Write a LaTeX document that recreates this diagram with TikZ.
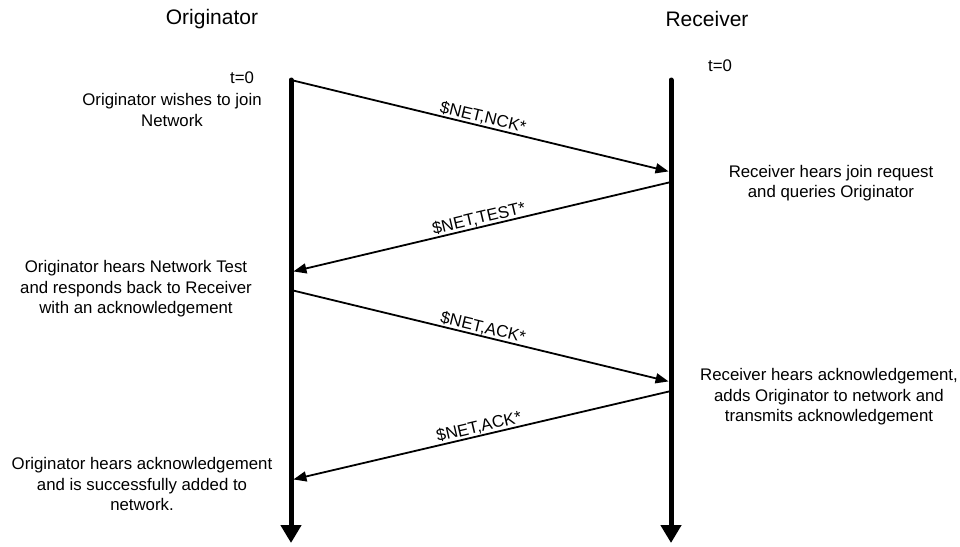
\documentclass[tikz,border=0pt]{standalone}
\usepackage{fontspec}
\setmainfont{Liberation Sans}
\usetikzlibrary{arrows.meta}
\begin{document}
\begin{tikzpicture}[x=1pt,y=-1pt,
  lifeline/.style={line width=5pt,-{Triangle[width=20pt,length=18pt]}},
  msg/.style={line width=1.8pt,-{Triangle[width=10pt,length=13pt]},shorten >=2.5pt,shorten <=1.5pt},
  msglabel/.style={midway,sloped,above,inner sep=0.5pt,font=\fontsize{16.8}{20}\selectfont},
  head/.style={inner sep=0pt,font=\fontsize{21}{24}\selectfont},
  note/.style={inner sep=0pt,align=center,font=\fontsize{16.8}{20.5}\selectfont}]
\useasboundingbox (0,0) rectangle (960,546);
% lifeline ends
\coordinate (Otop) at (291,80);
\coordinate (Obot) at (291,543);
\coordinate (Rtop) at (671,80);
\coordinate (Rbot) at (671,543);
% message ends
\coordinate (o1) at (291,80);
\coordinate (r1) at (671,172);
\coordinate (r2) at (671,182);
\coordinate (o2) at (291,272);
\coordinate (o3) at (291,290);
\coordinate (r3) at (671,382);
\coordinate (r4) at (671,391);
\coordinate (o4) at (291,480);
% lifelines
\draw[lifeline,line cap=round] (Otop) -- (Obot);
\draw[lifeline,line cap=round] (Rtop) -- (Rbot);
% headers
\node[head] (hO) at (212,19) {Originator};
\node[head] (hR) at (707,19) {Receiver};
\node[note] (t0O) at (242,78) {t=0};
\node[note] (t0R) at (720,66) {t=0};
% notes
\node[note] (n1) at (172,110) {Originator wishes to join\\Network};
\node[note] (n2) at (831,183) {Receiver hears join request\\and queries Originator};
\node[note] (n3) at (136,289) {Originator hears Network Test\\and responds back to Receiver\\with an acknowledgement};
\node[note] (n4) at (829,397) {Receiver hears acknowledgement,\\adds Originator to network and\\transmits acknowledgement};
\node[note] (n5) at (142,484) {Originator hears acknowledgement\\and is successfully added to\\network.};
% messages
\draw[msg] (o1) -- node[msglabel] (l1) {\$NET,NCK*} (r1);
\draw[msg] (r2) -- node[msglabel] (l2) {\$NET,TEST*} (o2);
\draw[msg] (o3) -- node[msglabel] (l3) {\$NET,ACK*} (r3);
\draw[msg] (r4) -- node[msglabel] (l4) {\$NET,ACK*} (o4);
\end{tikzpicture}
\end{document}
